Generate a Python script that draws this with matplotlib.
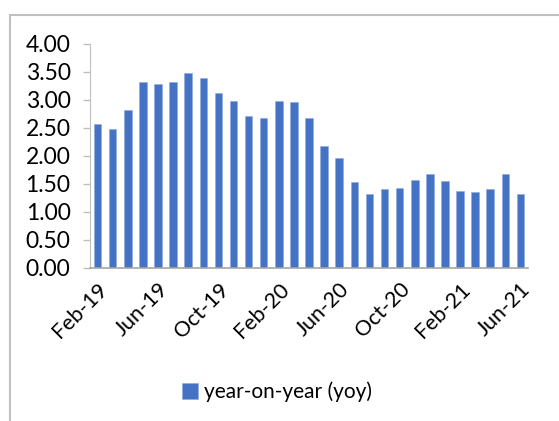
import matplotlib
matplotlib.use('Agg')
import matplotlib.pyplot as plt
from matplotlib.patches import Rectangle
import numpy as np

months = ['Feb-19', 'Mar-19', 'Apr-19', 'May-19', 'Jun-19', 'Jul-19', 'Aug-19',
          'Sep-19', 'Oct-19', 'Nov-19', 'Dec-19', 'Jan-20', 'Feb-20', 'Mar-20',
          'Apr-20', 'May-20', 'Jun-20', 'Jul-20', 'Aug-20', 'Sep-20', 'Oct-20',
          'Nov-20', 'Dec-20', 'Jan-21', 'Feb-21', 'Mar-21', 'Apr-21', 'May-21',
          'Jun-21']
yoy = [2.57, 2.48, 2.83, 3.32, 3.28, 3.32, 3.49, 3.39, 3.13, 2.99, 2.71, 2.67,
       2.98, 2.96, 2.67, 2.18, 1.96, 1.53, 1.32, 1.41, 1.43, 1.58, 1.67, 1.55,
       1.38, 1.36, 1.41, 1.67, 1.32]
yticks = [0.0, 0.5, 1.0, 1.5, 2.0, 2.5, 3.0, 3.5, 4.0]

plt.rcParams['font.family'] = ['Lato', 'DejaVu Sans']

fig = plt.figure(figsize=(5.59, 4.21), dpi=100)
ax = fig.add_axes([90/559, 1-268/421, (528-90)/559, (268-44)/421])

x = np.arange(len(months))
bars = ax.bar(x, yoy, width=0.5, color='#4472C4', edgecolor='#8FAADC', linewidth=0.4,
              label='year-on-year (yoy)')

ax.set_xlim(-0.5, len(months) - 0.5)
ax.set_ylim(0, 4)
ax.set_yticks(yticks)
ax.set_yticklabels(['{:.2f}'.format(v) for v in yticks], fontsize=16.5)

ax.set_xticks(x[::4])
ax.set_xticklabels(months[::4], rotation=45, ha='right', rotation_mode='anchor', fontsize=15.5)
ax.tick_params(axis='x', length=0, pad=8)
ax.tick_params(axis='y', length=5, width=1, color='#BFBFBF', pad=9)

for s in ['top', 'right']:
    ax.spines[s].set_visible(False)
ax.spines['left'].set_color('#BFBFBF')
ax.spines['bottom'].set_color('#A6A6A6')
ax.spines['bottom'].set_linewidth(1.2)

# outer chart frame
fig.patches.append(Rectangle((10/559, -0.1), 1.1, 1.1 - 15/421,
                             transform=fig.transFigure, fill=False,
                             edgecolor='#C0C0C0', linewidth=1.5))

fig.legend(handles=[bars], loc='center', bbox_to_anchor=(277/559, 1-392/421),
           frameon=False, fontsize=15, handlelength=0.8, handleheight=0.8,
           handletextpad=0.3)

fig.savefig('out.png', dpi=100)
